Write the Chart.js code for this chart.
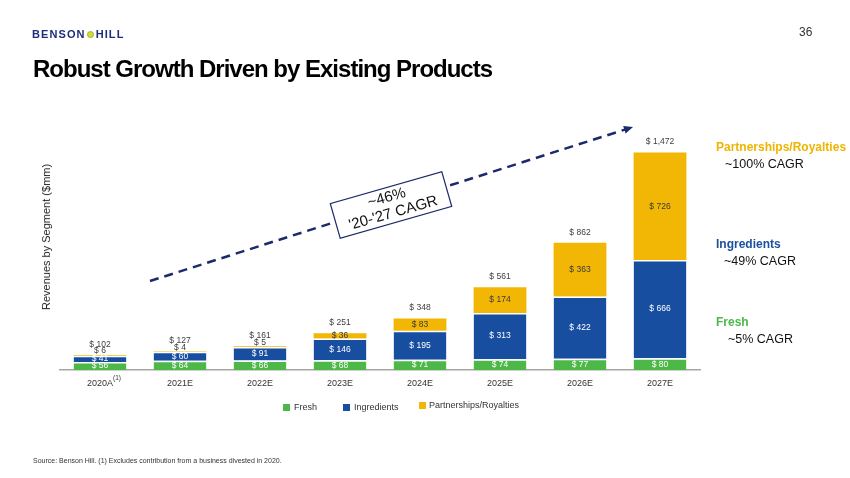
<!DOCTYPE html>
<html>
<head>
<meta charset="utf-8">
<script src="https://cdn.jsdelivr.net/npm/chart.js@4.4.0/dist/chart.umd.min.js"></script>
<style>
body { margin: 0; background: #fff; font-family: "Liberation Sans", Arial, sans-serif; }
#wrap { position: relative; width: 850px; height: 478px; overflow: hidden; }
canvas { position: absolute; left: 0; top: 0; }
.abs { position: absolute; white-space: nowrap; }
.logo { left: 32px; top: 28px; font-size: 11px; font-weight: bold; color: #1d2c7c; letter-spacing: 1.1px; line-height: 12px; }
.dot { display: inline-block; width: 5px; height: 5px; border-radius: 50%; background: #e3d62a; border: 1px solid #7cbf45; margin: 0 2px 1px 1px; vertical-align: middle; }
.title { left: 33px; top: 57px; font-size: 24px; line-height: 24px; font-weight: bold; color: #000; letter-spacing: -1px; }
.page { left: 799px; top: 26px; font-size: 12px; line-height: 12px; color: #333; }
.ytitle { left: 46px; top: 237px; font-size: 11px; color: #222; transform: translate(-50%, -50%) rotate(-90deg); }
.seg { font-size: 12px; line-height: 12px; font-weight: bold; }
.cagr { font-size: 12.5px; line-height: 12px; color: #111; }
.leg { font-size: 9px; line-height: 9px; color: #333; }
.sq { width: 7px; height: 7px; }
.src { left: 33px; top: 457px; font-size: 7px; line-height: 7px; color: #333; }
</style>
</head>
<body>
<div id="wrap">
  <canvas id="c" width="850" height="478"></canvas>
  <div class="abs logo">BENSON<span class="dot"></span>HILL</div>
  <div class="abs page">36</div>
  <div class="abs title">Robust Growth Driven by Existing Products</div>
  <div class="abs ytitle">Revenues by Segment ($mm)</div>

  <div class="abs seg" style="left:716px; top:141px; color:#f0b400;">Partnerships/Royalties</div>
  <div class="abs cagr" style="left:725px; top:158px;">~100% CAGR</div>
  <div class="abs seg" style="left:716px; top:238px; color:#1b4f9f;">Ingredients</div>
  <div class="abs cagr" style="left:724px; top:255px;">~49% CAGR</div>
  <div class="abs seg" style="left:716px; top:316px; color:#4db748;">Fresh</div>
  <div class="abs cagr" style="left:728px; top:333px;">~5% CAGR</div>

  <div class="abs sq" style="left:283px; top:404px; background:#4db748;"></div>
  <div class="abs leg" style="left:294px; top:403px;">Fresh</div>
  <div class="abs sq" style="left:343px; top:404px; background:#174ea0;"></div>
  <div class="abs leg" style="left:354px; top:403px;">Ingredients</div>
  <div class="abs sq" style="left:419px; top:402px; background:#f2b705;"></div>
  <div class="abs leg" style="left:429px; top:401px;">Partnerships/Royalties</div>

  <div class="abs src">Source: Benson Hill. (1) Excludes contribution from a business divested in 2020.</div>
</div>
<script>
const years = ['2020A', '2021E', '2022E', '2023E', '2024E', '2025E', '2026E', '2027E'];
const fresh = [56, 64, 66, 68, 71, 74, 77, 80];
const ingredients = [41, 60, 91, 146, 195, 313, 422, 666];
const partnerships = [6, 4, 5, 36, 83, 174, 363, 726];
const totals = [102, 127, 161, 251, 348, 561, 862, 1472];

const fmt = v => '$ ' + String(v).replace(/\B(?=(\d{3})+(?!\d))/g, ',');

const labelPlugin = {
    id: 'segLabels',
    afterDatasetsDraw(chart) {
        const ctx = chart.ctx;
        ctx.save();
        ctx.font = '8.5px "Liberation Sans", Arial, sans-serif';
        ctx.textAlign = 'center';
        ctx.textBaseline = 'middle';
        chart.data.datasets.forEach((ds, i) => {
            const meta = chart.getDatasetMeta(i);
            meta.data.forEach((bar, j) => {
                const v = ds.data[j];
                let y = (bar.y + bar.base) / 2;
                if (i === 2 && v < 10) y = bar.y - 4;
                ctx.fillStyle = i === 2 ? '#3a3a3a' : '#ffffff';
                ctx.fillText(fmt(v), bar.x, y);
            });
        });
        const top = chart.getDatasetMeta(2);
        top.data.forEach((bar, j) => {
            ctx.fillStyle = '#404040';
            ctx.fillText(fmt(totals[j]), bar.x, bar.y - 10.5);
        });
        // footnote marker on first tick
        const xs = chart.scales.x;
        ctx.font = '6.5px "Liberation Sans", Arial, sans-serif';
        ctx.fillStyle = '#333';
        ctx.textAlign = 'left';
        ctx.fillText('(1)', xs.getPixelForTick(0) + 13, chart.chartArea.bottom + 8);
        ctx.restore();
    }
};

const arrowPlugin = {
    id: 'cagrArrow',
    afterDraw(chart) {
        const ctx = chart.ctx;
        const x0 = 150, y0 = 281, x1 = 633, y1 = 127;
        const ang = Math.atan2(y1 - y0, x1 - x0);
        ctx.save();
        ctx.strokeStyle = '#1b2a6b';
        ctx.lineWidth = 2.5;
        ctx.setLineDash([9, 6]);
        ctx.beginPath();
        ctx.moveTo(x0, y0);
        ctx.lineTo(x1 - 7 * Math.cos(ang), y1 - 7 * Math.sin(ang));
        ctx.stroke();
        ctx.setLineDash([]);
        ctx.fillStyle = '#1b2a6b';
        ctx.translate(x1, y1);
        ctx.rotate(ang);
        ctx.beginPath();
        ctx.moveTo(0, 0);
        ctx.lineTo(-9, -4);
        ctx.lineTo(-9, 4);
        ctx.closePath();
        ctx.fill();
        ctx.restore();

        // rotated CAGR box
        ctx.save();
        ctx.translate(391, 205);
        ctx.rotate(-16 * Math.PI / 180);
        ctx.fillStyle = '#fff';
        ctx.fillRect(-58, -18, 116, 36);
        ctx.strokeStyle = '#1b2a6b';
        ctx.lineWidth = 1.2;
        ctx.strokeRect(-58, -18, 116, 36);
        ctx.fillStyle = '#111';
        ctx.font = '15px "Liberation Sans", Arial, sans-serif';
        ctx.textAlign = 'center';
        ctx.textBaseline = 'middle';
        ctx.fillText('~46%', -2, -8);
        ctx.fillText("'20-'27 CAGR", 0, 8.5);
        ctx.restore();
    }
};

new Chart(document.getElementById('c'), {
    type: 'bar',
    data: {
        labels: years,
        datasets: [
            { label: 'Fresh', data: fresh, backgroundColor: '#4db748', borderColor: '#ffffff', borderWidth: { top: 1.5 }, borderSkipped: false },
            { label: 'Ingredients', data: ingredients, backgroundColor: '#174ea0', borderColor: '#ffffff', borderWidth: { top: 1.5 }, borderSkipped: false },
            { label: 'Partnerships/Royalties', data: partnerships, backgroundColor: '#f2b705' }
        ]
    },
    options: {
        responsive: false,
        animation: false,
        devicePixelRatio: 1,
        layout: { padding: { left: 60, right: 150, top: 110, bottom: 81 } },
        datasets: { bar: { categoryPercentage: 1, barPercentage: 0.66 } },
        plugins: { legend: { display: false }, tooltip: { enabled: false } },
        scales: {
            x: {
                stacked: true,
                grid: { display: false, drawTicks: false },
                border: { display: true, color: '#a6a6a6', width: 1.5 },
                ticks: { color: '#333', padding: 8, font: { size: 9, family: '"Liberation Sans", Arial, sans-serif' } }
            },
            y: { stacked: true, display: false, min: 0, max: 1760 }
        }
    },
    plugins: [labelPlugin, arrowPlugin]
});
</script>
</body>
</html>
